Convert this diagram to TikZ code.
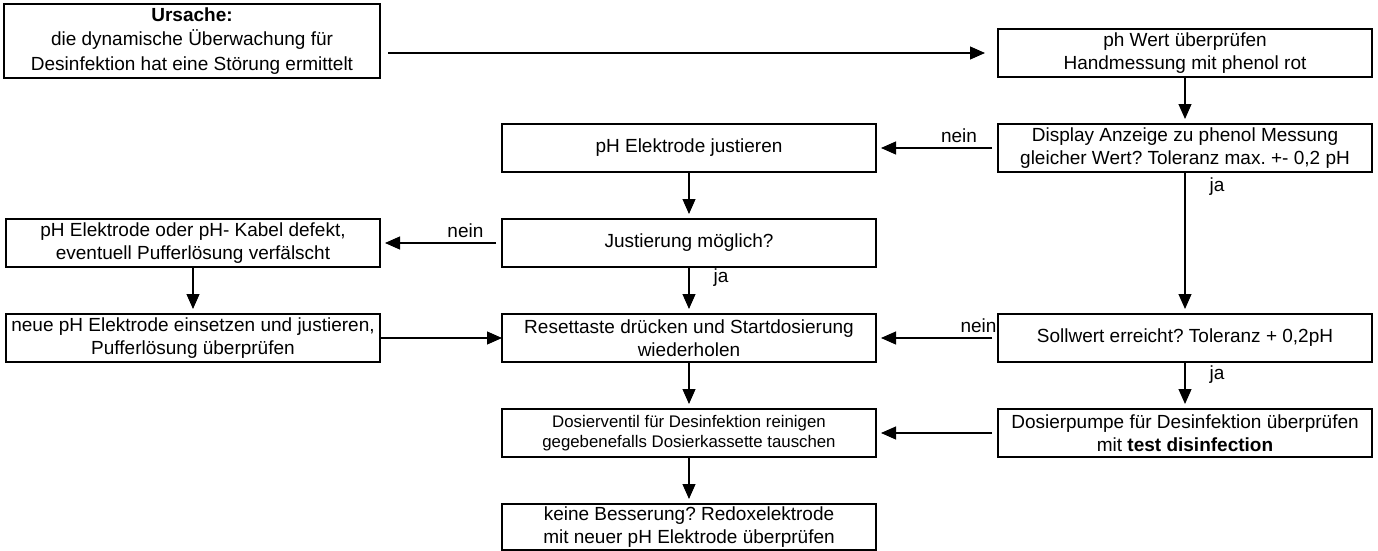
\documentclass[tikz,border=0pt]{standalone}
\usepackage{fontspec}
\setmainfont{Liberation Sans}
\usetikzlibrary{arrows.meta,positioning}
\frenchspacing
\newcommand{\boxfont}{\fontsize{19}{23}\selectfont}
\newcommand{\smallboxfont}{\fontsize{16.8}{20}\selectfont}

\begin{document}
\begin{tikzpicture}[x=1pt,y=-1pt,
  box/.style={draw=black,line width=2.8pt,outer sep=0pt,inner sep=2pt,
              minimum width=374pt,minimum height=48pt,align=center,font=\boxfont},
  arr/.style={-{Triangle[length=15pt,width=13pt]},line width=1.1pt,shorten >=5pt},
  back/.style={arr,shorten <=6pt},
  lbl/.style={font=\boxfont,inner sep=2pt},
  node distance=47pt and 122pt
]
\useasboundingbox (0,0) rectangle (1378,551);
\node[box,minimum width=376pt,minimum height=74pt,font=\fontsize{19}{24.5}\selectfont] (ursache) at (192,41)
  {\textbf{Ursache:}\\die dynamische Überwachung für\\Desinfektion hat eine Störung ermittelt};
\node[box] (wert) at (1185,53) {ph Wert überprüfen\\Handmessung mit phenol rot};
\node[box,below=of wert] (anzeige) {Display Anzeige zu phenol Messung\\gleicher Wert? Toleranz max. +- 0,2 pH};
\node[box,left=of anzeige] (justieren) {pH Elektrode justieren};
\node[box,below=of justieren] (moeglich) {Justierung möglich?};
\node[box,left=of moeglich] (defekt) {pH Elektrode oder pH- Kabel defekt,\\eventuell Pufferlösung verfälscht};
\node[box,below=of defekt] (neu) {neue pH Elektrode einsetzen und justieren,\\Pufferlösung überprüfen};
\node[box,below=of moeglich] (reset) {Resettaste drücken und Startdosierung\\wiederholen};
\node[box,right=of reset] (sollwert) {Sollwert erreicht? Toleranz + 0,2pH};
\node[box,below=of reset,font=\smallboxfont] (ventil) {Dosierventil für Desinfektion reinigen\\gegebenefalls Dosierkassette tauschen};
\node[box,below=of sollwert] (pumpe) {Dosierpumpe für Desinfektion überprüfen\\mit \textbf{test disinfection}};
\node[box,below=of ventil,minimum height=46pt,yshift=0pt] (besserung) {keine Besserung? Redoxelektrode\\mit neuer pH Elektrode überprüfen};
\draw[arr,shorten <=8pt,shorten >=13pt] (ursache.east |- wert) -- (wert);
\draw[arr] (wert) -- (anzeige);
\draw[back] (anzeige) -- node[lbl,above=3pt,pos=0.32]{nein} (justieren);
\draw[arr] (anzeige) -- node[lbl,right=22pt,pos=0.1]{ja} (sollwert);
\draw[arr] (justieren) -- (moeglich);
\draw[back] (moeglich) -- node[lbl,above=3pt,pos=0.3]{nein} (defekt);
\draw[arr] (moeglich) -- node[lbl,right=22pt,pos=0.23]{ja} (reset);
\draw[arr] (defekt) -- (neu);
\draw[arr,shorten >=0pt] (neu) -- (reset);
\draw[back] (sollwert) -- node[lbl,above=3pt,pos=0.16]{nein} (reset);
\draw[arr] (sollwert) -- node[lbl,right=22pt,pos=0.27]{ja} (pumpe);
\draw[arr] (reset) -- (ventil);
\draw[back] (pumpe) -- (ventil);
\draw[arr] (ventil) -- (besserung);
\end{tikzpicture}
\end{document}
